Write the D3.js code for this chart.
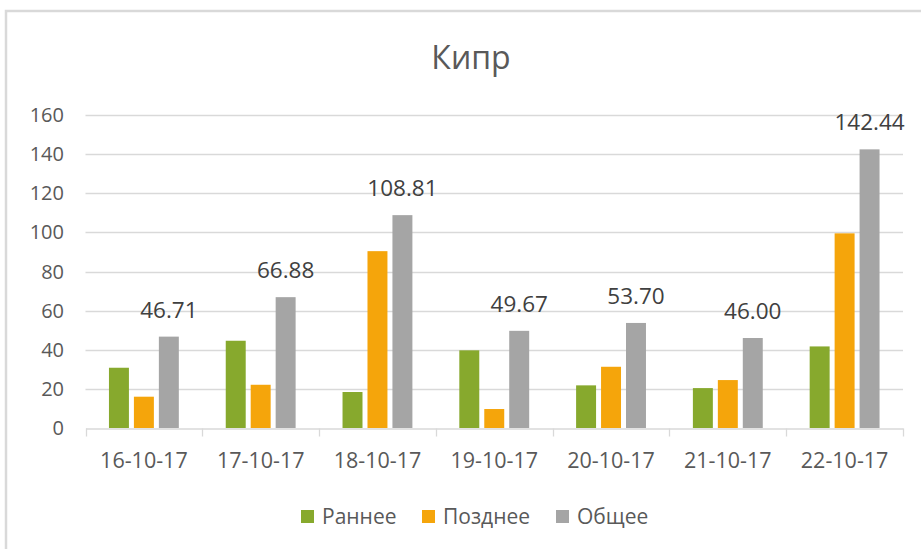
<!DOCTYPE html>
<html lang="ru">
<head>
  <meta charset="UTF-8">
  <title>Кипр</title>
  <script src="https://cdn.jsdelivr.net/npm/d3@7/dist/d3.min.js"></script>
  <style>
    body { margin: 0; background: #fff; }
    svg { display: block; font-family: "Open Sans", sans-serif; }
  </style>
</head>
<body>
  <svg></svg>
  <script>
    const width = 921
    const height = 549

    // data
    const dates = ["16-10-17", "17-10-17", "18-10-17", "19-10-17", "20-10-17", "21-10-17", "22-10-17"]
    const seriesNames = ["Раннее", "Позднее", "Общее"]
    const early = [30.8, 44.6, 18.4, 39.7, 21.8, 20.4, 41.7]
    const late = [16.0, 22.1, 90.4, 9.7, 31.3, 24.5, 99.5]
    const total = [46.71, 66.88, 108.81, 49.67, 53.70, 46.00, 142.44]
    const yTicks = [0, 20, 40, 60, 80, 100, 120, 140, 160]
    const colors = ["#87a92d", "#f5a50b", "#a5a5a5"]

    const rows = dates.map((d, i) => ({ date: d, values: [early[i], late[i], total[i]] }))

    const margin = { left: 85.5, right: 18, top: 115, bottom: 121 }

    const svg = d3.select("svg").attr("width", width).attr("height", height)

    // outer frame (only top and left edges are visible)
    svg.append("path")
      .attr("d", `M6,${height} V11 H${width}`)
      .attr("fill", "none")
      .attr("stroke", "#d9d9d9")
      .attr("stroke-width", 2.5)

    svg.append("text")
      .attr("x", 471).attr("y", 69)
      .attr("text-anchor", "middle")
      .attr("fill", "#595959")
      .style("font-size", "32px")
      .text("Кипр")

    const x0 = d3.scaleBand()
      .domain(dates)
      .range([margin.left, width - margin.right])
      .paddingInner(0).paddingOuter(0)

    const x1 = d3.scaleBand()
      .domain(seriesNames)
      .range([0, x0.bandwidth()])
      .paddingInner(0.2).paddingOuter(0.94)

    const y = d3.scaleLinear()
      .domain([0, 160])
      .range([height - margin.bottom, margin.top])

    // gridlines
    svg.append("g")
      .selectAll("line")
      .data(yTicks.slice(1))
      .join("line")
      .attr("x1", margin.left).attr("x2", width - margin.right)
      .attr("y1", d => Math.round(y(d)) + 0.5).attr("y2", d => Math.round(y(d)) + 0.5)
      .attr("stroke", "#d9d9d9")
      .attr("stroke-width", 1.3)

    // y axis labels
    svg.append("g")
      .selectAll("text")
      .data(yTicks)
      .join("text")
      .attr("x", 64)
      .attr("y", d => y(d))
      .attr("dy", "0.35em")
      .attr("text-anchor", "end")
      .attr("fill", "#595959")
      .style("font-size", "20px")
      .text(d => d)

    // bars
    const g = svg.append("g")
      .selectAll("g")
      .data(rows)
      .join("g")
      .attr("transform", d => `translate(${x0(d.date)},0)`)

    g.selectAll("rect")
      .data(d => d.values.map((v, i) => ({ name: seriesNames[i], value: v, color: colors[i] })))
      .join("rect")
      .attr("x", d => x1(d.name))
      .attr("width", x1.bandwidth())
      .attr("y", d => y(d.value))
      .attr("height", d => y(0) - y(d.value))
      .attr("fill", d => d.color)

    // labels above the total bars
    g.append("text")
      .attr("x", x1("Общее") + x1.bandwidth() / 2)
      .attr("y", d => y(d.values[2]) - 19)
      .attr("text-anchor", "middle")
      .attr("fill", "#404040")
      .style("font-size", "22.5px")
      .text(d => d.values[2].toFixed(2))

    // x axis
    const xAxis = svg.append("g")
      .attr("transform", `translate(0,${Math.round(y(0)) + 0.5})`)
      .call(d3.axisBottom(x0).tickSize(0).tickPadding(24))
    xAxis.select(".domain").attr("stroke", "#d9d9d9").attr("stroke-width", 1.3)
    xAxis.selectAll("text")
      .attr("fill", "#595959")
      .style("font-size", "21.5px")
      .style("font-family", "Open Sans, sans-serif")

    // boundary ticks between categories
    const bounds = dates.map(d => x0(d)).concat([x0.range()[1]])
    xAxis.selectAll(".bound")
      .data(bounds)
      .join("line")
      .attr("class", "bound")
      .attr("x1", d => Math.round(d) + 0.5).attr("x2", d => Math.round(d) + 0.5)
      .attr("y1", 0).attr("y2", 8)
      .attr("stroke", "#d9d9d9")
      .attr("stroke-width", 1.3)

    // legend
    const legendX = [301, 422, 556]
    const legend = svg.append("g")
      .selectAll("g")
      .data(seriesNames)
      .join("g")
      .attr("transform", (d, i) => `translate(${legendX[i]},510)`)
    legend.append("rect")
      .attr("width", 13).attr("height", 13)
      .attr("fill", (d, i) => colors[i])
    legend.append("text")
      .attr("x", 21).attr("y", 13.5)
      .attr("fill", "#595959")
      .style("font-size", "21px")
      .text(d => d)
  </script>
</body>
</html>
